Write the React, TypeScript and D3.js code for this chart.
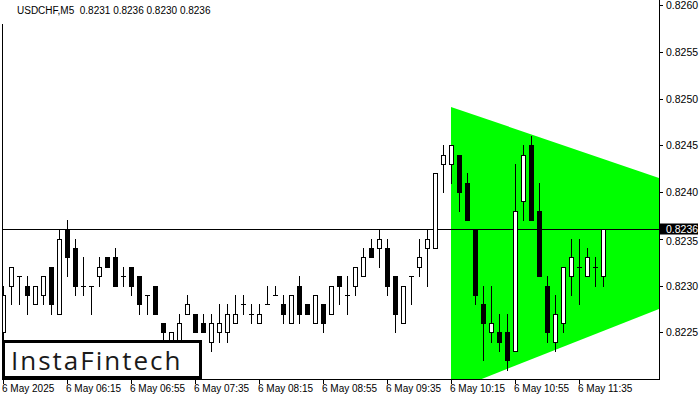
import React, { useEffect } from 'react';
import * as d3 from 'd3';

// USDCHF M5 candles (index 0 = 05:35)
const opens = [
  0.8225, 0.8230, 0.8231, 0.8230, 0.8228, 0.8229, 0.8232, 0.8227, 0.8236, 0.8234,
  0.8230, 0.8230, 0.8231, 0.8233, 0.8233, 0.8231, 0.8232, 0.8231, 0.8229, 0.8230,
  0.8226, 0.8224, 0.8224, 0.8227, 0.8227, 0.8226, 0.8224, 0.8225, 0.8225, 0.8226,
  0.8228, 0.8227, 0.8226, 0.8228, 0.8229, 0.8228, 0.8226, 0.8230, 0.8228, 0.8226,
  0.8228, 0.8227, 0.8231, 0.8229, 0.8230, 0.8231, 0.8234, 0.8234, 0.8234, 0.8231,
  0.8226, 0.8231, 0.8232, 0.8234, 0.8234, 0.8243, 0.8243, 0.8244, 0.8241, 0.8236,
  0.8228, 0.8225, 0.8225, 0.8225, 0.8223, 0.8239, 0.8245, 0.8238, 0.8230, 0.8224,
  0.8226, 0.8231, 0.8232, 0.8231, 0.8232, 0.8231
];
const highs = [
  0.8230, 0.8232, 0.8231, 0.8231, 0.8230, 0.8231, 0.8232, 0.8236, 0.8237, 0.8235,
  0.8233, 0.8230, 0.8233, 0.8233, 0.8234, 0.8232, 0.8232, 0.8231, 0.8229, 0.8230,
  0.8226, 0.8225, 0.8227, 0.8229, 0.8227, 0.8227, 0.8227, 0.8228, 0.8228, 0.8229,
  0.8229, 0.8228, 0.8228, 0.8230, 0.8230, 0.8229, 0.8229, 0.8231, 0.8228, 0.8229,
  0.8228, 0.8230, 0.8231, 0.8231, 0.8232, 0.8234, 0.8235, 0.8236, 0.8235, 0.8231,
  0.8230, 0.8231, 0.8235, 0.8236, 0.8242, 0.8245, 0.8245, 0.8244, 0.8242, 0.8236,
  0.8230, 0.8230, 0.8227, 0.8227, 0.8243, 0.8245, 0.8246, 0.8241, 0.8231, 0.8229,
  0.8232, 0.8235, 0.8235, 0.8234, 0.8233, 0.8236
];
const lows = [
  0.8224, 0.8228, 0.8228, 0.8227, 0.8228, 0.8228, 0.8227, 0.8227, 0.8231, 0.8229,
  0.8229, 0.8227, 0.8230, 0.8232, 0.8230, 0.8230, 0.8229, 0.8227, 0.8227, 0.8227,
  0.8224, 0.8223, 0.8223, 0.8227, 0.8225, 0.8225, 0.8223, 0.8224, 0.8224, 0.8226,
  0.8227, 0.8226, 0.8226, 0.8228, 0.8229, 0.8226, 0.8226, 0.8226, 0.8227, 0.8226,
  0.8225, 0.8227, 0.8228, 0.8227, 0.8229, 0.8231, 0.8233, 0.8232, 0.8229, 0.8225,
  0.8226, 0.8228, 0.8231, 0.8230, 0.8234, 0.8240, 0.8241, 0.8238, 0.8237, 0.8228,
  0.8222, 0.8224, 0.8223, 0.8221, 0.8223, 0.8237, 0.8237, 0.8231, 0.8224, 0.8223,
  0.8225, 0.8229, 0.8228, 0.8231, 0.8230, 0.8230
];
const closes = [
  0.8229, 0.8232, 0.8231, 0.8229, 0.8230, 0.8231, 0.8228, 0.8235, 0.8233, 0.8230,
  0.8230, 0.8230, 0.8232, 0.8232, 0.8230, 0.8231, 0.8230, 0.8228, 0.8229, 0.8227,
  0.8225, 0.8225, 0.8226, 0.8228, 0.8225, 0.8225, 0.8226, 0.8226, 0.8227, 0.8227,
  0.8228, 0.8227, 0.8227, 0.8228, 0.8229, 0.8227, 0.8229, 0.8227, 0.8227, 0.8229,
  0.8226, 0.8230, 0.8230, 0.8229, 0.8232, 0.8233, 0.8233, 0.8235, 0.8230, 0.8227,
  0.8230, 0.8231, 0.8233, 0.8235, 0.8242, 0.8244, 0.8245, 0.8240, 0.8237, 0.8229,
  0.8226, 0.8226, 0.8224, 0.8222, 0.8238, 0.8244, 0.8237, 0.8231, 0.8225, 0.8227,
  0.8232, 0.8233, 0.8232, 0.8233, 0.8232, 0.8236
];

const priceTicks = [0.8260, 0.8255, 0.8250, 0.8245, 0.8240, 0.8235, 0.8230, 0.8225];
const timeTickIdx = [0, 8, 16, 24, 32, 40, 48, 56, 64, 72];
const timeTickLabels = [
  '6 May 2025', '6 May 06:15', '6 May 06:55', '6 May 07:35', '6 May 08:15',
  '6 May 08:55', '6 May 09:35', '6 May 10:15', '6 May 10:55', '6 May 11:35'
];

// bullish triangle pattern: left and right edges (bar index, upper, lower price)
const patternIdx = [56, 82];
const patternUpper = [0.82491, 0.82415];
const patternLower = [0.82187, 0.82275];

const currentPrice = 0.8236;
const title = 'USDCHF,M5  0.8231 0.8236 0.8230 0.8236';

const left = 2;
const right = 659;
const bottom = 379;
const font = '"Liberation Sans", Arial, sans-serif';

const App: React.FC = () => {
  useEffect(() => {
    document.body.style.margin = '0';
  }, []);

  const x = d3.scaleLinear().domain([0, 75]).range([3, 603]);
  const y = d3.scaleLinear().domain([0.822, 0.826]).range([379, 5]);
  const py = (p: number) => Math.round(y(p));

  const tri = d3.line<[number, number]>()([
    [x(patternIdx[0]), y(patternUpper[0])],
    [x(patternIdx[1]), y(patternUpper[1])],
    [x(patternIdx[1]), y(patternLower[1])],
    [x(patternIdx[0]), y(patternLower[0])]
  ]) + 'Z';

  const lineY = py(currentPrice) + 0.5;

  return (
    <svg width={700} height={400} style={{ display: 'block', background: '#fff' }}>
      <defs>
        <clipPath id="plot">
          <rect x={left} y={0} width={right - left} height={bottom} />
        </clipPath>
      </defs>
      <g clipPath="url(#plot)">
        <path d={tri} fill="#00ff00" />
        <line x1={left} x2={right} y1={lineY} y2={lineY} stroke="#000" />
        {opens.map((o, i) => {
          const c = closes[i];
          const cx = Math.round(x(i));
          const top = py(Math.max(o, c));
          const bot = py(Math.min(o, c));
          const up = c > o;
          return (
            <g key={i}>
              <line x1={cx + 0.5} x2={cx + 0.5} y1={py(highs[i])} y2={py(lows[i]) + 1} stroke="#000" />
              {o === c ? (
                <line x1={cx - 2} x2={cx + 3} y1={top + 0.5} y2={top + 0.5} stroke="#000" />
              ) : (
                <rect x={cx - 1.5} y={top + 0.5} width={4} height={bot - top}
                  fill={up ? '#fff' : '#000'} stroke="#000" />
              )}
            </g>
          );
        })}
      </g>

      {/* frame */}
      <line x1={left + 0.5} x2={left + 0.5} y1={24} y2={bottom} stroke="#000" />
      <line x1={right + 0.5} x2={right + 0.5} y1={0} y2={bottom + 1} stroke="#000" />
      <line x1={left} x2={right + 1} y1={bottom + 0.5} y2={bottom + 0.5} stroke="#000" />

      <text x={17} y={13.5} fontFamily={font} fontSize={10} fill="#000" style={{ whiteSpace: 'pre' }}>
        {title}
      </text>

      {/* price axis */}
      {priceTicks.map((p) => {
        const ty = py(p) + 0.5;
        const nudge = Math.abs(ty - lineY) < 12 ? 2 : 0;
        return (
          <g key={p}>
            <line x1={right} x2={right + 4} y1={ty} y2={ty} stroke="#000" />
            <text x={666} y={ty + nudge} dy="0.35em" fontFamily={font} fontSize={10.5} fill="#000">
              {p.toFixed(4)}
            </text>
          </g>
        );
      })}
      <rect x={660} y={lineY - 6} width={38} height={11} fill="#000" />
      <text x={666} y={lineY} dy="0.35em" fontFamily={font} fontSize={10.5} fill="#fff">
        {currentPrice.toFixed(4)}
      </text>

      {/* time axis */}
      {timeTickIdx.map((t, k) => {
        const tx = Math.round(x(t)) + 0.5;
        return (
          <g key={t}>
            <line x1={tx} x2={tx} y1={bottom} y2={bottom + 5} stroke="#000" />
            <text x={tx - 1.5} y={392} fontFamily={font} fontSize={10} fill="#000">
              {timeTickLabels[k]}
            </text>
          </g>
        );
      })}

      {/* logo */}
      <rect x={3.5} y={341.5} width={197} height={36} fill="#fff" stroke="#000" strokeWidth={3} />
      <text x={11} y={370} fontFamily='"Open Sans", sans-serif' fontSize={26} letterSpacing={2}
        fill="#1a1a1a">
        InstaFintech
      </text>
    </svg>
  );
};

export default App;
